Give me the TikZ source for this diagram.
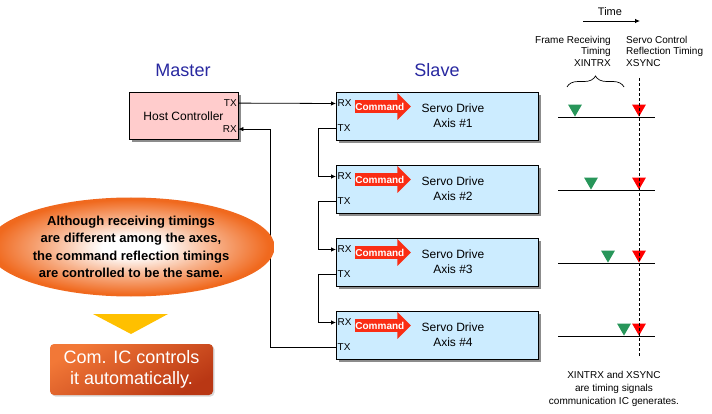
\documentclass[tikz,border=0pt]{standalone}
\usepackage{fontspec}
\setmainfont{Liberation Sans}
\usetikzlibrary{positioning, calc, arrows.meta, shapes, shadows, decorations.pathreplacing}
\definecolor{hostpink}{RGB}{255,204,204}
\definecolor{slaveblue}{RGB}{204,236,255}
\definecolor{titleblue}{RGB}{40,40,160}
\definecolor{cmdred}{RGB}{250,45,20}
\definecolor{rxgreen}{RGB}{40,150,90}
\definecolor{ellorange}{RGB}{240,105,30}
\definecolor{ellrim}{RGB}{228,88,20}
\definecolor{tipyellow}{RGB}{255,192,0}
\definecolor{boxlight}{RGB}{242,120,55}
\definecolor{boxdark}{RGB}{185,55,20}
\pgfdeclareradialshading{ellglow}{\pgfpoint{0bp}{0bp}}{color(0bp)=(white); color(5bp)=(white); color(14bp)=(ellorange!50!white); color(24bp)=(ellorange); color(50bp)=(ellrim)}
\tikzset{boxshadow/.style={drop shadow={shadow xshift=2.5pt, shadow yshift=-2.5pt, fill=black!45, opacity=1}}}
\tikzset{hostbox/.style={draw, line width=0.8pt, fill=hostpink, boxshadow, minimum width=109pt, minimum height=47pt, font=\fontsize{12}{14}\selectfont}}
\tikzset{servobox/.style={draw, line width=0.8pt, fill=slaveblue, boxshadow, minimum width=202pt, minimum height=48pt}}
\tikzset{port/.style={inner sep=1.5pt, font=\fontsize{10}{12}\selectfont}}
\tikzset{cmdarrow/.style={single arrow, fill=cmdred, text=white, anchor=west, inner xsep=0pt, inner ysep=2.6pt, single arrow head extend=7pt, font=\bfseries\fontsize{10}{12}\selectfont}}
\tikzset{servotext/.style={align=center, font=\fontsize{12}{15}\selectfont}}
\tikzset{title/.style={text=titleblue, font=\fontsize{18}{20}\selectfont}}
\tikzset{small/.style={inner sep=0pt, font=\fontsize{10}{11.5}\selectfont}}
\tikzset{link/.style={line width=0.8pt, ->}}
\tikzset{trig/.style={regular polygon, regular polygon sides=3, shape border rotate=180, minimum size=16pt, inner sep=0pt, anchor=south}}

\begin{document}
\begin{tikzpicture}[x=1pt, y=-1pt, >={Latex[length=5pt, width=4.5pt]}]
      \useasboundingbox (0,0) rectangle (712,414);

      \node[title] (master) at (183,70) {Master};
      \node[title] (slave) at (437,70) {Slave};

      \node[hostbox] (host) at (183.5,116) {Host Controller};
      \node[port, anchor=east] (htx) at ($(host.north east)+(0,11)$) {TX};
      \node[port, anchor=east] (hrx) at ($(host.north east)+(0,37)$) {RX};

      \foreach \i in {1,...,4} {
        \pgfmathsetmacro{\ytop}{92+73*(\i-1)}
        \node[servobox, anchor=north west] (ax\i) at (336,\ytop) {};
        \node[cmdarrow] (cmd\i) at ($(ax\i.north west)+(19,14.5)$) {Command};
        \node[servotext] (sd\i) at ($(ax\i.north west)+(117,24)$) {Servo Drive\\Axis \#\i};
        \node[port, anchor=west] (rx\i) at ($(ax\i.north west)+(0,11.5)$) {RX};
        \node[port, anchor=west] (tx\i) at ($(ax\i.north west)+(0,36.5)$) {TX};
      }

      \draw[link] (htx.east) -- (rx1.west);
      \foreach \i/\j in {1/2, 2/3, 3/4}
        \draw[link] (tx\i.west) -- ++(-18,0) |- (rx\j.west);
      \draw[link] (tx4.west) -| ($(hrx.east)+(32,0)$) -- (hrx.east);

      % timing chart
      \node[font=\fontsize{11}{13}\selectfont] (time) at (610,12) {Time};
      \coordinate (t0) at (583,21);
      \coordinate (t1) at (640,21);
      \draw[link] (t0) -- (t1);
      \node[small, anchor=north east, align=right] (frt) at (611,36) {Frame Receiving\\Timing\\XINTRX};
      \node[small, anchor=north west, align=left] (sct) at (626,36) {Servo Control\\Reflection Timing\\XSYNC};
      \coordinate (bl) at (567,87);
      \coordinate (br) at (624,87);
      \draw[line width=0.7pt, decorate, decoration={brace, amplitude=11pt}] (bl) -- (br);

      \foreach \i/\gx in {1/575, 2/591, 3/608, 4/624} {
        \pgfmathsetmacro{\ly}{117+73*(\i-1)}
        \coordinate (l\i) at (558,\ly);
        \coordinate (e\i) at (655,\ly);
        \draw[line width=0.9pt] (l\i) -- (e\i);
        \node[trig, fill=rxgreen] (g\i) at (\gx,\ly) {};
        \node[trig, fill=red] (r\i) at (639,\ly) {};
      }
      \coordinate (d0) at (639,78);
      \coordinate (d1) at (639,357);
      \draw[line width=0.7pt, dash pattern=on 3pt off 2pt] (d0) -- (d1);
      \node[align=center, font=\fontsize{10}{13}\selectfont] (note) at (614,389) {XINTRX and XSYNC\\are timing signals\\communication IC generates.};

      % left side
      \node[ellipse, minimum width=252pt, minimum height=99pt, shading=ellglow, align=center, font=\bfseries\fontsize{13}{17.5}\selectfont] (ell) at (131,247) {Although receiving timings\\are different among the axes,\\the command reflection timings\\are controlled to be the same.};
      \fill[tipyellow] (93,314) -- (168,314) -- (131,334) -- cycle;
      \node[rounded corners=4pt, minimum width=163pt, minimum height=51pt, top color=boxlight, bottom color=boxdark, shading angle=30, drop shadow={shadow xshift=1.5pt, shadow yshift=-1.5pt, opacity=0.3}, text=white, align=center, font=\fontsize{18}{21}\selectfont] (auto) at (131.5,369.5) {Com. IC controls\\it automatically.};
\end{tikzpicture}
\end{document}
